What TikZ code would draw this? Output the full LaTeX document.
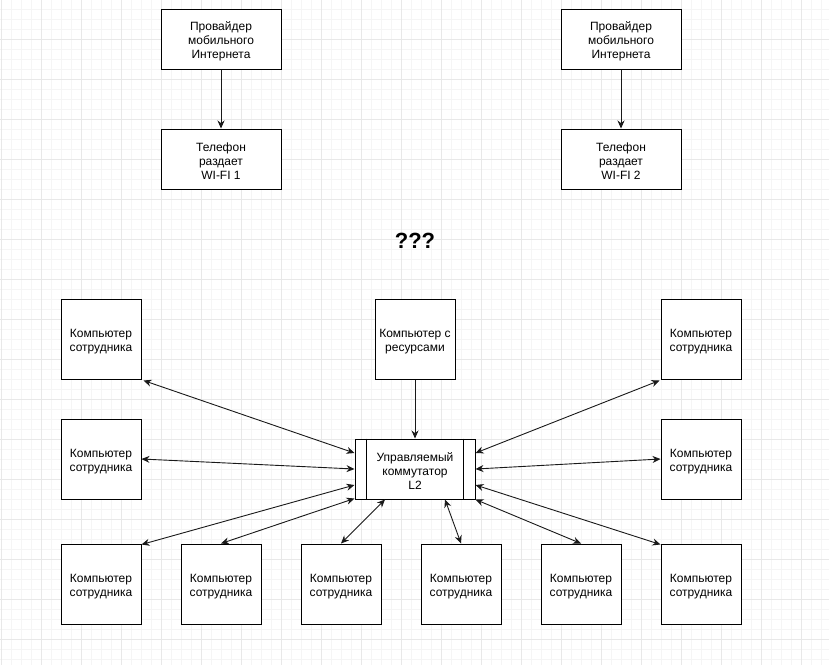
\documentclass[tikz,border=0pt]{standalone}
\usepackage{fontspec}
\setmainfont{Liberation Sans}
\usetikzlibrary{arrows.meta,calc}
\definecolor{gridminor}{HTML}{F5F5F5}
\definecolor{gridmajor}{HTML}{E8E8E8}
\tikzset{
  box/.style={draw=black, line width=1pt, fill=white, inner sep=0pt},
  txt/.style={align=center, inner sep=0pt, yshift=-2.5pt, font=\fontsize{12}{14}\selectfont},
  pcbox/.style={box, minimum width=80pt, minimum height=80pt},
  widebox/.style={box, minimum width=120pt, minimum height=60pt},
  link/.style={line width=0.9pt, draw=black!90, {Stealth[length=8pt,width=7pt]}-{Stealth[length=8pt,width=7pt]}},
  onelink/.style={line width=0.9pt, draw=black!90, -{Stealth[length=8pt,width=7pt]}}
}
\begin{document}
\begin{tikzpicture}[x=1pt,y=-1pt]
\useasboundingbox (0,0) rectangle (829,665);
\fill[white] (0,0) rectangle (829,665);
% grid
\foreach \gx in {1,11,...,829} {\draw[gridminor, line width=0.8pt] (\gx,0) -- (\gx,665);}
\foreach \gy in {9,19,...,665} {\draw[gridminor, line width=0.8pt] (0,\gy) -- (829,\gy);}
\foreach \gx in {1,41,...,829} {\draw[gridmajor, line width=0.8pt] (\gx,0) -- (\gx,665);}
\foreach \gy in {39,79,...,665} {\draw[gridmajor, line width=0.8pt] (0,\gy) -- (829,\gy);}

% top
\node[widebox, label={[txt]center:{Провайдер\\мобильного\\Интернета}}] (prov1) at (221,39) {};
\node[widebox, label={[txt]center:{Телефон\\раздает\\WI-FI 1}}] (phone1) at (221,159) {};
\node[widebox, label={[txt]center:{Провайдер\\мобильного\\Интернета}}] (prov2) at (621,39) {};
\node[widebox, label={[txt]center:{Телефон\\раздает\\WI-FI 2}}] (phone2) at (621,159) {};
\draw[onelink] (prov1) -- (phone1);
\draw[onelink] (prov2) -- (phone2);

\node[font=\fontsize{22}{24}\selectfont\bfseries] (q) at (415,241) {???};

% network
\node[pcbox, label={[txt]center:{Компьютер с\\ресурсами}}] (res) at (415,339) {};
\node[widebox] (sw) at (415,469) {};
\draw[line width=1pt] ($(sw.north west)+(12,0)$) -- ($(sw.south west)+(12,0)$);
\draw[line width=1pt] ($(sw.north east)+(-12,0)$) -- ($(sw.south east)+(-12,0)$);
\node[txt] (swtext) at (sw.center) {Управляемый\\коммутатор\\L2};

\node[pcbox, label={[txt]center:{Компьютер\\сотрудника}}] (e1) at (101,339) {};
\node[pcbox, label={[txt]center:{Компьютер\\сотрудника}}] (e2) at (101,459) {};
\node[pcbox, label={[txt]center:{Компьютер\\сотрудника}}] (e3) at (101,584) {};
\node[pcbox, label={[txt]center:{Компьютер\\сотрудника}}] (b2) at (221,584) {};
\node[pcbox, label={[txt]center:{Компьютер\\сотрудника}}] (b3) at (341,584) {};
\node[pcbox, label={[txt]center:{Компьютер\\сотрудника}}] (b4) at (461,584) {};
\node[pcbox, label={[txt]center:{Компьютер\\сотрудника}}] (b5) at (581,584) {};
\node[pcbox, label={[txt]center:{Компьютер\\сотрудника}}] (r1) at (701,339) {};
\node[pcbox, label={[txt]center:{Компьютер\\сотрудника}}] (r2) at (701,459) {};
\node[pcbox, label={[txt]center:{Компьютер\\сотрудника}}] (r3) at (701,584) {};

\draw[onelink] (res) -- (sw);
\draw[link] ($(e1.south east)+(2,1)$) -- ($(sw.west)+(0,-16)$);
\draw[link] (e2.east) -- (sw.west);
\draw[link] ($(e3.north east)+(0,1)$) -- ($(sw.west)+(0,16)$);
\draw[link] (b2.north) -- ($(sw.south west)+(0,-1)$);
\draw[link] (b3.north) -- ($(sw.south)+(-30,0)$);
\draw[link] (b4.north) -- ($(sw.south)+(30,0)$);
\draw[link] (b5.north) -- (sw.south east);
\draw[link] ($(r3.north west)+(0,1)$) -- ($(sw.east)+(0,16)$);
\draw[link] (r2.west) -- (sw.east);
\draw[link] ($(r1.south west)+(-1,1)$) -- ($(sw.east)+(0,-16)$);
\end{tikzpicture}
\end{document}
